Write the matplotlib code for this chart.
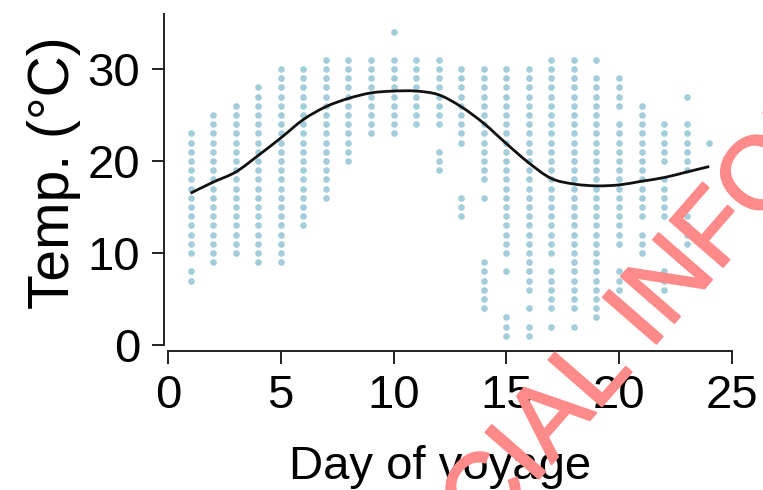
import numpy as np
import matplotlib
matplotlib.use('Agg')
import matplotlib.pyplot as plt
import matplotlib.patheffects as pe
from matplotlib.path import Path
from matplotlib.patches import PathPatch

plt.rcParams['font.family'] = ['Liberation Sans', 'DejaVu Sans']

# temperature readings: for each day, runs of whole degrees (low, high) that have a dot
days = list(range(1, 25))
temp_runs = [
    [(10, 23), (7, 8)],
    [(9, 25)],
    [(10, 26)],
    [(9, 28)],
    [(9, 30)],
    [(13, 30)],
    [(16, 31)],
    [(20, 31)],
    [(23, 31)],
    [(23, 31), (34, 34)],
    [(24, 31)],
    [(24, 31), (19, 21)],
    [(22, 30), (14, 16)],
    [(18, 30), (16, 16), (4, 9)],
    [(10, 30), (8, 8), (1, 3)],
    [(6, 30), (4, 4), (1, 2)],
    [(10, 31), (4, 8), (2, 2)],
    [(4, 31), (2, 2)],
    [(31, 31), (3, 29)],
    [(26, 29), (11, 24), (6, 8)],
    [(14, 26), (10, 12)],
    [(20, 24), (14, 18), (6, 8)],
    [(27, 27), (19, 24), (11, 14)],
    [(22, 22)],
]

# smoothed trend
trend = [16.5, 17.7, 18.8, 20.6, 22.5, 24.5, 25.9, 26.8, 27.4, 27.6, 27.6, 27.2,
         25.9, 24.1, 21.9, 19.8, 18.1, 17.5, 17.3, 17.4, 17.8, 18.2, 18.8, 19.4]

xs, ys = [], []
for d, runs in zip(days, temp_runs):
    for lo, hi in runs:
        for t in range(lo, hi + 1):
            xs.append(d)
            ys.append(t)

fig = plt.figure(figsize=(7.63, 4.9), dpi=100)
ax = fig.add_axes([168 / 763, 145 / 490, 25.1 * 22.55 / 763, 36 * 9.2 / 490])

ax.scatter(xs, ys, s=23, color='#7db8cc', alpha=0.7, linewidths=0, zorder=2)

# trend drawn as a smooth bezier through the read values
pts = np.column_stack([days, trend])
verts = [pts[0]]
codes = [Path.MOVETO]
for i in range(len(pts) - 1):
    p0 = pts[max(i - 1, 0)]
    p1 = pts[i]
    p2 = pts[i + 1]
    p3 = pts[min(i + 2, len(pts) - 1)]
    verts += [p1 + (p2 - p0) / 6, p2 - (p3 - p1) / 6, p2]
    codes += [Path.CURVE4] * 3
ax.add_patch(PathPatch(Path(verts, codes), facecolor='none', edgecolor='#111111',
                       lw=2.0, zorder=3))

ax.set_xlim(0, 25.1)
ax.set_ylim(0, 36)
ax.set_xticks([0, 5, 10, 15, 20, 25])
ax.set_yticks([0, 10, 20, 30])

for side in ['top', 'right']:
    ax.spines[side].set_visible(False)
ax.spines['left'].set_position(('outward', 3))
ax.spines['bottom'].set_position(('outward', 4))
ax.spines['bottom'].set_bounds(0, 25)
for side in ['left', 'bottom']:
    ax.spines[side].set_linewidth(1.4)
    ax.spines[side].set_color('#222222')

ax.tick_params(axis='both', length=9, width=1.4, color='#222222', labelsize=34, pad=8)
ax.set_xlabel('Day of voyage', fontsize=34, labelpad=19)
ax.xaxis.label.set_x(0.48)
ax.set_ylabel('Temp. (°C)', fontsize=41, labelpad=5)
ax.yaxis.label.set_y(0.52)

# watermark across the lower right
wm = dict(rotation=49, rotation_mode='anchor', fontsize=74, color='#ff8a8a',
          va='baseline', zorder=10,
          path_effects=[pe.withStroke(linewidth=1.5, foreground='#ff8a8a')])
fig.text(0.852, 0.284, 'INFORMATION', ha='left', **wm)
fig.text(0.852, 0.284, 'OFFICIAL ', ha='right', **wm)

fig.savefig('out.png', dpi=100)
